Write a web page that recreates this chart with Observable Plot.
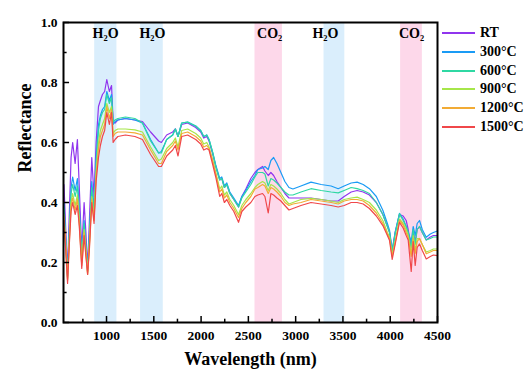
<!DOCTYPE html>
<html><head><meta charset="utf-8">
<script src="https://cdn.jsdelivr.net/npm/d3@7"></script>
<script src="https://cdn.jsdelivr.net/npm/@observablehq/plot@0.6"></script>
<style>
body{margin:0;background:#fff;}
#wrap{position:relative;width:527px;height:372px;font-family:"Liberation Serif","Times New Roman",serif;}
#legend{position:absolute;left:442px;top:23.6px;font-weight:bold;font-size:14px;color:#000;}
.row{display:flex;align-items:center;height:18.8px;white-space:nowrap;}
.sw{width:33px;height:0;border-top:2px solid;margin-right:5px;}
</style></head><body><div id="wrap"><div id="chart"></div><div id="legend"></div></div>
<script>
const wavelength = [550,570,588,605,625,642,668,692,712,738,763,782,800,820,844,868,890,915,935,957,980,1003,1030,1053,1070,1090,1120,
1200,1300,1380,1466,1551,1580,1636,1700,1728,1756,1795,1858,1943,1996,2028,2060,2084,2124,2155,2197,2219,2246,2272,2304,2346,2396,2431,2473,2526,2569,2600,2650,2675,2710,2738,2767,2802,2844,2886,2929,2971,3056,3162,3270,3375,3450,3513,3587,3650,3714,3780,3853,3922,3970,3993,4021,4052,4098,4137,4169,4190,4222,4243,4264,4285,4310,4339,4381,4424,4456,4500];

const RT = [0.46,0.30,0.17,0.35,0.55,0.60,0.53,0.61,0.45,0.24,0.40,0.30,0.18,0.35,0.55,0.42,0.60,0.72,0.74,0.76,0.77,0.81,0.77,0.79,0.67,0.665,0.675,
0.68,0.675,0.67,0.635,0.605,0.60,0.625,0.635,0.645,0.62,0.66,0.665,0.65,0.635,0.615,0.62,0.605,0.56,0.52,0.475,0.48,0.45,0.46,0.43,0.41,0.385,0.42,0.445,0.48,0.50,0.51,0.52,0.505,0.49,0.50,0.49,0.47,0.45,0.43,0.415,0.415,0.415,0.415,0.41,0.405,0.405,0.42,0.435,0.44,0.435,0.425,0.40,0.36,0.32,0.30,0.24,0.30,0.36,0.355,0.34,0.31,0.25,0.30,0.27,0.31,0.32,0.30,0.275,0.285,0.29,0.29];

const T300 = [0.40,0.27,0.155,0.30,0.45,0.485,0.44,0.48,0.38,0.22,0.34,0.26,0.175,0.30,0.47,0.38,0.55,0.66,0.69,0.71,0.72,0.77,0.74,0.76,0.66,0.67,0.675,
0.68,0.675,0.665,0.61,0.565,0.57,0.61,0.625,0.645,0.62,0.665,0.668,0.655,0.64,0.62,0.625,0.61,0.565,0.525,0.48,0.485,0.455,0.465,0.435,0.415,0.39,0.42,0.44,0.47,0.49,0.51,0.515,0.52,0.51,0.54,0.55,0.53,0.50,0.47,0.45,0.445,0.455,0.468,0.46,0.455,0.446,0.455,0.465,0.468,0.46,0.446,0.42,0.374,0.33,0.307,0.24,0.30,0.364,0.345,0.32,0.30,0.27,0.32,0.29,0.33,0.34,0.31,0.284,0.295,0.30,0.305];

const T600 = [0.38,0.26,0.15,0.29,0.43,0.46,0.42,0.455,0.36,0.21,0.33,0.25,0.17,0.29,0.45,0.37,0.53,0.64,0.68,0.70,0.71,0.76,0.73,0.75,0.67,0.675,0.68,
0.685,0.68,0.665,0.605,0.565,0.565,0.61,0.625,0.645,0.62,0.665,0.668,0.655,0.64,0.62,0.625,0.61,0.565,0.52,0.475,0.48,0.45,0.46,0.43,0.41,0.385,0.415,0.435,0.46,0.485,0.50,0.50,0.495,0.455,0.48,0.475,0.465,0.45,0.435,0.425,0.425,0.435,0.446,0.44,0.435,0.432,0.44,0.45,0.446,0.44,0.43,0.40,0.36,0.32,0.30,0.235,0.295,0.362,0.34,0.32,0.30,0.25,0.31,0.26,0.31,0.32,0.30,0.275,0.28,0.285,0.285];

const T900 = [0.36,0.25,0.145,0.27,0.40,0.43,0.39,0.425,0.34,0.20,0.31,0.24,0.165,0.27,0.42,0.35,0.50,0.60,0.64,0.66,0.68,0.73,0.70,0.72,0.63,0.64,0.645,
0.645,0.642,0.635,0.585,0.54,0.545,0.58,0.60,0.615,0.585,0.64,0.645,0.63,0.615,0.595,0.60,0.585,0.54,0.50,0.445,0.455,0.425,0.435,0.41,0.39,0.36,0.39,0.41,0.43,0.45,0.46,0.47,0.465,0.44,0.46,0.455,0.445,0.43,0.41,0.395,0.40,0.41,0.414,0.41,0.405,0.40,0.41,0.415,0.418,0.41,0.40,0.375,0.34,0.30,0.285,0.225,0.27,0.345,0.33,0.31,0.29,0.23,0.29,0.24,0.28,0.28,0.26,0.235,0.24,0.245,0.245];

const T1200 = [0.35,0.24,0.14,0.26,0.39,0.415,0.375,0.41,0.33,0.19,0.30,0.23,0.16,0.26,0.41,0.34,0.49,0.58,0.62,0.64,0.66,0.72,0.68,0.71,0.62,0.63,0.635,
0.635,0.632,0.625,0.575,0.53,0.53,0.57,0.59,0.605,0.575,0.63,0.635,0.62,0.605,0.585,0.59,0.58,0.535,0.495,0.435,0.445,0.415,0.425,0.40,0.38,0.35,0.38,0.40,0.42,0.445,0.45,0.46,0.455,0.43,0.45,0.445,0.435,0.42,0.40,0.39,0.395,0.40,0.41,0.405,0.40,0.395,0.405,0.41,0.41,0.405,0.39,0.365,0.33,0.295,0.28,0.22,0.265,0.34,0.325,0.30,0.285,0.22,0.28,0.23,0.27,0.28,0.26,0.229,0.235,0.24,0.24];

const T1500 = [0.34,0.23,0.13,0.25,0.37,0.40,0.36,0.39,0.32,0.18,0.29,0.22,0.16,0.25,0.40,0.33,0.47,0.55,0.59,0.62,0.64,0.70,0.66,0.70,0.60,0.61,0.62,
0.625,0.62,0.61,0.56,0.52,0.52,0.555,0.575,0.59,0.555,0.62,0.625,0.61,0.595,0.575,0.58,0.575,0.525,0.485,0.42,0.43,0.40,0.41,0.39,0.37,0.334,0.37,0.385,0.40,0.42,0.425,0.43,0.42,0.365,0.43,0.425,0.415,0.405,0.39,0.375,0.38,0.39,0.40,0.395,0.39,0.385,0.39,0.40,0.40,0.395,0.38,0.355,0.323,0.29,0.273,0.21,0.26,0.334,0.315,0.29,0.275,0.17,0.27,0.19,0.25,0.262,0.24,0.212,0.22,0.225,0.223];

const seriesNames = ["RT","300°C","600°C","900°C","1200°C","1500°C"];
const seriesColors = ["#9035ee","#1a9bf5","#2fd8a3","#a6e64a","#f2ab35","#f0474a"];

const bandStart = [875, 1360, 2570, 3300, 4110];
const bandEnd = [1110, 1600, 2860, 3520, 4340];
const bandLabel = ["H₂O","H₂O","CO₂","H₂O","CO₂"];
const bandLabelAt = [990, 1485, 2725, 3315, 4225];

const xMajor = [1000,1500,2000,2500,3000,3500,4000,4500];
const xMinor = [750,1250,1750,2250,2750,3250,3750,4250];
const yMajor = [0,0.2,0.4,0.6,0.8,1.0];
const yMinor = [0.1,0.3,0.5,0.7,0.9];

const allSeries = [RT,T300,T600,T900,T1200,T1500];
const data = [];
allSeries.forEach((arr, i) => arr.forEach((v, j) => data.push({w: wavelength[j], r: v, s: seriesNames[i]})));
const bandIdx = d3.range(bandStart.length);
const x0 = 545;

const chart = Plot.plot({
  width: 527, height: 372,
  marginLeft: 63, marginRight: 90, marginTop: 22, marginBottom: 50,
  x: {domain: [x0, 4500]},
  y: {domain: [0, 1]},
  color: {domain: seriesNames, range: seriesColors},
  style: {fontFamily: "'Liberation Serif','Times New Roman',serif", fontWeight: "bold", fontSize: "14px", color: "#000", background: "#fff"},
  marks: [
    Plot.rect(bandIdx, {x1: i => bandStart[i], x2: i => bandEnd[i], y1: 0, y2: 1,
      fill: i => bandLabel[i].startsWith("H") ? "#daeefc" : "#fdd8ea"}),
    Plot.line(data, {x: "w", y: "r", z: "s", stroke: "s", strokeWidth: 1.2}),
    Plot.text(bandIdx, {x: i => bandLabelAt[i], y: 0.963, text: i => bandLabel[i], fontSize: 14, fontWeight: "bold", fill: "#000"}),
    Plot.ruleX(xMajor, {y1: 0, y2: 0.02, stroke: "#000", strokeWidth: 1.5}),
    Plot.ruleX(xMinor, {y1: 0, y2: 0.011, stroke: "#000", strokeWidth: 1.5}),
    Plot.ruleY(yMajor, {x1: x0, x2: x0 + 64, stroke: "#000", strokeWidth: 1.5}),
    Plot.ruleY(yMinor, {x1: x0, x2: x0 + 38, stroke: "#000", strokeWidth: 1.5}),
    Plot.axisX({ticks: xMajor, tickSize: 0, tickPadding: 8, tickFormat: d => String(d), label: null, fontSize: 13.5}),
    Plot.axisY({ticks: yMajor, tickSize: 0, tickPadding: 6, tickFormat: d3.format(".1f"), label: null, fontSize: 13.5}),
    Plot.text(["Wavelength (nm)"], {frameAnchor: "bottom", lineAnchor: "middle", dy: 37, fontSize: 18, fontWeight: "bold", fill: "#000"}),
    Plot.text(["Reflectance"], {frameAnchor: "left", dx: -38, rotate: -90, fontSize: 18, fontWeight: "bold", fill: "#000"}),
    Plot.frame({stroke: "#000", strokeWidth: 2})
  ]
});
document.getElementById("chart").appendChild(chart);

const legend = document.getElementById("legend");
seriesNames.forEach((n, i) => {
  const row = document.createElement("div");
  row.className = "row";
  const sw = document.createElement("span");
  sw.className = "sw";
  sw.style.borderTopColor = seriesColors[i];
  const t = document.createElement("span");
  t.textContent = n;
  row.appendChild(sw); row.appendChild(t);
  legend.appendChild(row);
});
</script></body></html>
